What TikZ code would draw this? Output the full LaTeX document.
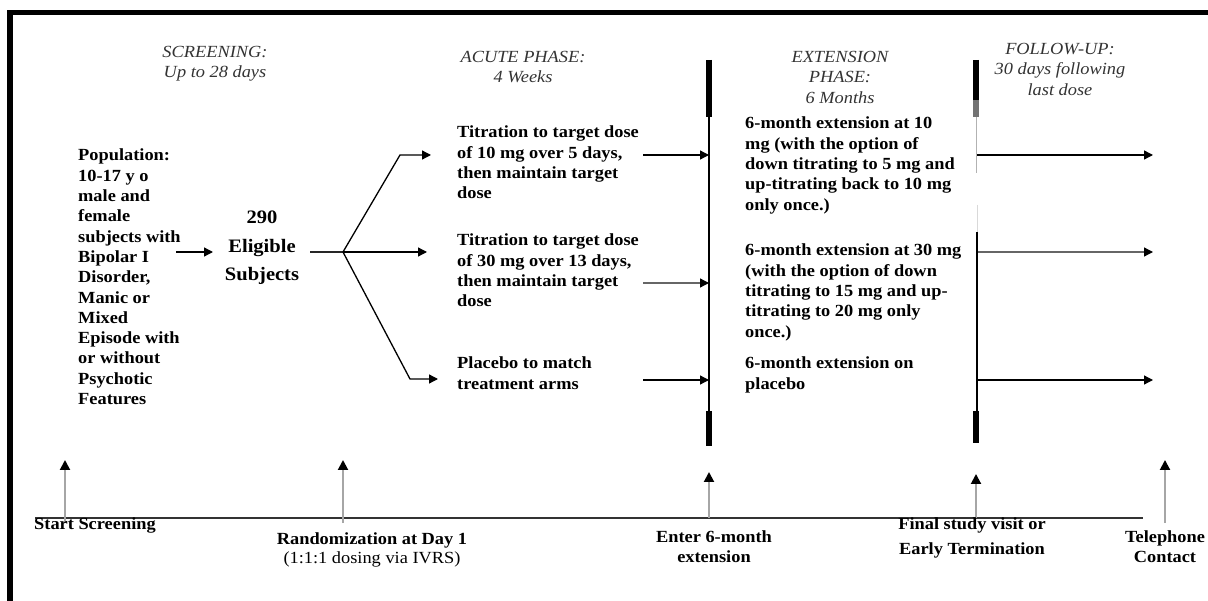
\documentclass[tikz,border=0pt]{standalone}
\usepackage{fontspec}
\setmainfont{Liberation Serif}[FakeStretch=1.08]
\usetikzlibrary{arrows.meta}
\begin{document}
\begin{tikzpicture}[x=1pt,y=-1pt,
  body/.style={font=\fontsize{17}{20.3}\selectfont\bfseries, align=left, anchor=north west, inner sep=0pt},
  hdr/.style={font=\fontsize{17}{20.5}\selectfont\itshape, align=center, anchor=north, inner sep=0pt, text=black!80},
  lbl/.style={font=\fontsize{17}{20}\selectfont\bfseries, align=center, anchor=north, inner sep=0pt},
  con/.style={line width=1.3pt, -{Triangle[length=9pt,width=9pt]}},
  gcon/.style={line width=1.3pt, draw=black!60, -{Triangle[length=9pt,width=9pt,color=black]}},
  link/.style={line width=1.2pt, draw=black!85},
  uparr/.style={draw=black!35, line width=2pt, -{Triangle[length=10pt,width=10pt,color=black]}},
  bar/.style={line width=5.5pt},
  rule/.style={line width=1.3pt}
]
\useasboundingbox (0,0) rectangle (1208,601);
% frame
\draw[line width=5.5pt] (10,601) -- (10,12.5) -- (1208,12.5);

% headers
\node[hdr] (hscr) at (215,46) {SCREENING:\\Up to 28 days};
\node[hdr] (hacu) at (523,51) {ACUTE PHASE:\\4 Weeks};
\node[hdr] (hext) at (840,51) {EXTENSION\\PHASE:\\6 Months};
\node[hdr] (hfol) at (1060,43) {FOLLOW-UP:\\30 days following\\last dose};

% population and eligible
\node[body] (pop) at (78,149) {Population:\\10-17 y o\\male and\\female\\subjects with\\Bipolar I\\Disorder,\\Manic or\\Mixed\\Episode with\\or without\\Psychotic\\Features};
\node[font=\fontsize{19}{28.5}\selectfont\bfseries, align=center, anchor=north, inner sep=0pt] (elig) at (262,211) {290\\Eligible\\Subjects};

% acute arms
\node[body] (t10) at (457,126) {Titration to target dose\\of 10 mg over 5 days,\\then maintain target\\dose};
\node[body] (t30) at (457,234) {Titration to target dose\\of 30 mg over 13 days,\\then maintain target\\dose};
\node[body] (tpl) at (457,357) {Placebo to match\\treatment arms};

% extension arms
\node[body] (e10) at (745,117) {6-month extension at 10\\mg (with the option of\\down titrating to 5 mg and\\up-titrating back to 10 mg\\only once.)};
\node[body] (e30) at (745,244) {6-month extension at 30 mg\\(with the option of down\\titrating to 15 mg and up-\\titrating to 20 mg only\\once.)};
\node[body] (epl) at (745,357) {6-month extension on\\placebo};

% coordinates
\coordinate (popout) at (176,252);
\coordinate (eligin) at (213,252);
\coordinate (eligout) at (310,252);
\coordinate (fork) at (343,252);
\coordinate (upk) at (400,155);
\coordinate (lok) at (410,379);
\coordinate (t10in) at (431,155);
\coordinate (t30in) at (427,252);
\coordinate (tplin) at (438,379);
\coordinate (t10out) at (643,155);
\coordinate (t30out) at (643,283);
\coordinate (tplout) at (643,380);
\coordinate (va) at (709,155);
\coordinate (vb) at (709,283);
\coordinate (vc) at (709,380);
\coordinate (wa) at (976,155);
\coordinate (wb) at (977,252);
\coordinate (wc) at (976,380);
\coordinate (fa) at (1153,155);
\coordinate (fb) at (1153,252);
\coordinate (fc) at (1153,380);

% connectors
\draw[con] (popout) -- (eligin);
\draw[link] (eligout) -- (fork);
\draw[con] (fork) -- (upk) -- (t10in);
\draw[con] (fork) -- (t30in);
\draw[con] (fork) -- (lok) -- (tplin);
\draw[con] (t10out) -- (va);
\draw[gcon] (t30out) -- (vb);
\draw[con] (tplout) -- (vc);
\draw[con] (wa) -- (fa);
\draw[gcon] (wb) -- (fb);
\draw[con] (wc) -- (fc);

% phase separators
\draw[bar] (709,60) -- (709,117);
\draw[rule] (709,117) -- (709,411);
\draw[bar] (709,411) -- (709,446);
\draw[bar] (976,60) -- (976,100);
\draw[bar, draw=black!55] (976,100) -- (976,117);
\draw[line width=1pt, draw=black!30] (976,117) -- (976,173);
\draw[line width=1pt, draw=black!15] (977,205) -- (977,232);
\draw[rule] (977,232) -- (977,411);
\draw[bar] (976,411) -- (976,443);

% timeline
\coordinate (tla) at (35,518);
\coordinate (tlb) at (1143,518);
\draw[rule, draw=black!80] (tla) -- (tlb);

\coordinate (u1a) at (65,523);   \coordinate (u1b) at (65,460);
\coordinate (u2a) at (343,523);  \coordinate (u2b) at (343,460);
\coordinate (u3a) at (709,518);  \coordinate (u3b) at (709,472);
\coordinate (u4a) at (976,518);  \coordinate (u4b) at (976,474);
\coordinate (u5a) at (1165,523); \coordinate (u5b) at (1165,460);
\draw[uparr] (u1a) -- (u1b);
\draw[uparr] (u2a) -- (u2b);
\draw[uparr] (u3a) -- (u3b);
\draw[uparr] (u4a) -- (u4b);
\draw[uparr] (u5a) -- (u5b);

% milestone labels
\node[lbl, anchor=north west] (lstart) at (34,518) {Start Screening};
\node[lbl] (lrand) at (372,533) {Randomization at Day 1\\[-1pt]{\mdseries (1:1:1 dosing via IVRS)}};
\node[lbl] (lent) at (714,531) {Enter 6-month\\extension};
\node[lbl] (lfin) at (972,518) {Final study visit or\\[5pt]Early Termination};
\node[lbl] (ltel) at (1165,531) {Telephone\\Contact};
\end{tikzpicture}
\end{document}
